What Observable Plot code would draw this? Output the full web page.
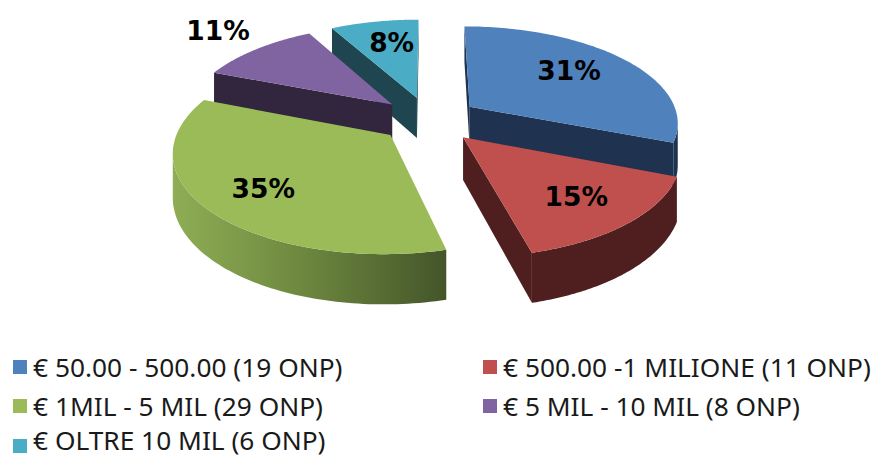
<!DOCTYPE html>
<html><head><meta charset="utf-8">
<script src="https://cdn.jsdelivr.net/npm/d3@7"></script>
<script src="https://cdn.jsdelivr.net/npm/@observablehq/plot@0.6"></script>
<style>
html,body{margin:0;padding:0;background:#fff;overflow:hidden;width:874px;height:457px}
#legend{position:absolute;left:0;top:0;width:874px;height:457px;font-family:"Noto Sans",sans-serif;font-size:26.3px;color:#1a1a1a}
.it{position:absolute;white-space:nowrap;line-height:24px;height:24px}
.sw{position:absolute;width:14px;height:14px}
svg{position:absolute;left:0;top:0}
</style></head><body>
<div id="chart"></div><div id="legend"></div>
<script>
const shares=[31,15,35,11,8];
const pctLabels=["31%","15%","35%","11%","8%"];
const names=["€ 50.00 - 500.00 (19 ONP)","€ 500.00 -1 MILIONE (11 ONP)","€ 1MIL - 5 MIL (29 ONP)","€ 5 MIL - 10 MIL (8 ONP)","€ OLTRE 10 MIL (6 ONP)"];
const topColors=["#4f81bd","#c0504d","#9bbb59","#8064a2","#4bacc6"];
const sideColors=["#1f3350","#4e1f1e","url(#greenSide)","#32263f","#1f4550"];
const labelRadius=[.668,.72,.729,1.338,.676];
const labelAngle=[52,139.3,227.2,312.3,347.8];
const paintOrder=[4,3,0,2,1];
const legendCols=[12,482], swatchRows=[367,406,446], textRows=[367,406,440];

const W=874,H=335;
const cx=428.5,cy=119,A=209,B=96,k=.15,explode=.24,D=41.5;
const rad=d=>d*Math.PI/180;
const proj=(X,Y,z=0)=>{const w=1/(1+k*Y);return {x:cx+A*X*w,y:cy-B*Y*w+z*D*w};};

let cum=0;
const slices=shares.map((v,i)=>{const a0=cum*3.6;cum+=v;const a1=cum*3.6;const m=(a0+a1)/2;
  const ox=explode*Math.sin(rad(m)),oy=explode*Math.cos(rad(m));
  const pt=(deg,r=1,z=0)=>proj(ox+r*Math.sin(rad(deg)),oy+r*Math.cos(rad(deg)),z);
  return {i,a0,a1,m,pt,apex:z=>proj(ox,oy,z)};});

const arcDegs=(a,b)=>d3.range(0,101).map(j=>a+(b-a)*j/100);
const layers=[];
for(const idx of paintOrder){const s=slices[idx];
  const side=sideColors[idx];
  const rimS=s.pt(s.a0),rimE=s.pt(s.a1),ap=s.apex(0);
  if(rimS.x<ap.x) layers.push({pts:[s.apex(0),s.pt(s.a0),s.pt(s.a0,1,1),s.apex(1)],fill:side.startsWith("url")?"#4a5c2c":side});
  if(rimE.x>ap.x) layers.push({pts:[s.apex(0),s.pt(s.a1),s.pt(s.a1,1,1),s.apex(1)],fill:side.startsWith("url")?"#4a5c2c":side});
  const degs=arcDegs(s.a0,s.a1).filter(d=>s.pt(d+.2).x<s.pt(d).x);
  if(degs.length>1) layers.push({pts:[...degs.map(d=>s.pt(d)),...degs.slice().reverse().map(d=>s.pt(d,1,1))],fill:side});
  layers.push({pts:[s.apex(0),...arcDegs(s.a0,s.a1).map(d=>s.pt(d))],fill:topColors[idx]});
}
const labelPts=slices.map(s=>({...s.pt(labelAngle[s.i],labelRadius[s.i]),t:pctLabels[s.i]}));

const defs=()=>{const d=d3.create("svg:defs");
  const g=d.append("linearGradient").attr("id","greenSide").attr("x1",0).attr("x2",1).attr("y1",0).attr("y2",0);
  g.append("stop").attr("offset","0%").attr("stop-color","#8fad55");
  g.append("stop").attr("offset","45%").attr("stop-color","#6f8a40");
  g.append("stop").attr("offset","100%").attr("stop-color","#44552a");
  return d.node();};

const chart=Plot.plot({width:W,height:H,margin:0,
  x:{domain:[0,W],range:[0,W],axis:null},y:{domain:[0,H],range:[0,H],axis:null},
  style:{background:"transparent"},
  marks:[defs,
    ...layers.map(l=>Plot.line(l.pts,{x:"x",y:"y",fill:l.fill,stroke:"none",curve:"linear-closed"})),
    Plot.text(labelPts,{x:"x",y:"y",text:"t",fill:"#000",fontSize:26.5,fontWeight:"bold",fontFamily:"DejaVu Sans"})
  ]});
document.getElementById("chart").append(chart);

const lg=document.getElementById("legend");
names.forEach((n,i)=>{const cxx=legendCols[i%2],r=Math.floor(i/2);
  const sw=document.createElement("div");sw.className="sw";sw.style.left=(cxx+1)+"px";sw.style.top=(swatchRows[r]-7)+"px";sw.style.background=topColors[i];
  const t=document.createElement("div");t.className="it";t.textContent=n;t.style.left=(cxx+21)+"px";t.style.top=(textRows[r]-12)+"px";
  lg.append(sw,t);});
</script></body></html>
